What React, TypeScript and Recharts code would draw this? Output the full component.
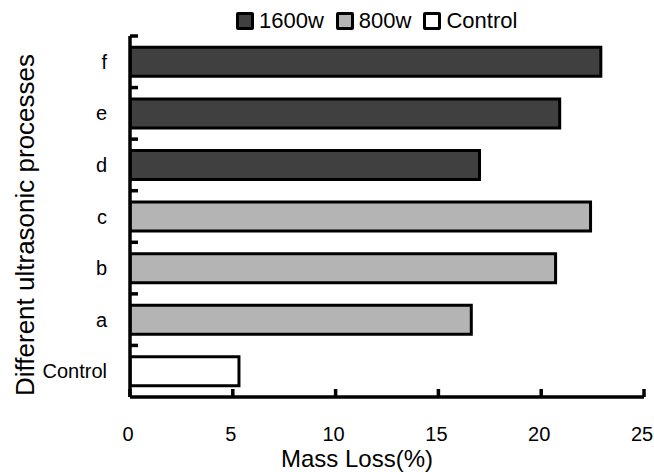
import { BarChart, Bar, XAxis, YAxis, Legend } from "recharts";

// Mass loss (%) per ultrasonic process
const categories = ["f", "e", "d", "c", "b", "a", "Control"];
const loss1600w = [22.9, 20.9, 17.0, null, null, null, null];
const loss800w = [null, null, null, 22.4, 20.7, 16.6, null];
const lossControl = [null, null, null, null, null, null, 5.3];
const xTicks = [0, 5, 10, 15, 20, 25];

const series = [
  { key: "w1600", name: "1600w", fill: "#404040" },
  { key: "w800", name: "800w", fill: "#b4b4b4" },
  { key: "control", name: "Control", fill: "#ffffff" },
];

const data = categories.map((name, i) => ({
  name,
  w1600: loss1600w[i],
  w800: loss800w[i],
  control: lossControl[i],
}));

const W = 654;
const H = 472;
const TOP = 36;
const BOTTOM = 397;
const Y_W = 130;
const BAND = (BOTTOM - TOP) / categories.length;
const FONT = '"Liberation Sans", Arial, sans-serif';

function YTick({ x, y, payload }: any) {
  const top = y - BAND / 2;
  return (
    <g>
      <line x1={x} x2={x + 8} y1={top} y2={top} stroke="#000" strokeWidth={3.5} />
      <text x={x - 23} y={y + 7} textAnchor="end" fontSize={20} fontFamily={FONT} fill="#000">
        {payload.value}
      </text>
    </g>
  );
}

function XTick({ x, y, payload }: any) {
  return (
    <g>
      <line x1={x} x2={x} y1={y} y2={y - 8} stroke="#000" strokeWidth={3.5} />
      <text x={x - 2} y={y + 44} textAnchor="middle" fontSize={20} fontFamily={FONT} fill="#000">
        {payload.value}
      </text>
    </g>
  );
}

function LegendRow({ payload }: any) {
  return (
    <div style={{ display: "flex", alignItems: "center", fontFamily: FONT, fontSize: 22, lineHeight: "26px", color: "#000" }}>
      {(payload || []).map((p: any) => (
        <div key={p.value} style={{ display: "flex", alignItems: "center", marginRight: 12 }}>
          <span
            style={{
              display: "inline-block",
              width: 12,
              height: 12,
              border: "3px solid #000",
              borderRadius: 2,
              background: p.color,
              marginRight: 5,
            }}
          />
          <span>{p.value}</span>
        </div>
      ))}
    </div>
  );
}

export default function App() {
  return (
    <div style={{ position: "absolute", left: 0, top: 0, background: "#fff" }}>
      <BarChart
        width={W}
        height={H}
        data={data}
        layout="vertical"
        margin={{ top: TOP, right: W - 644, left: 0, bottom: 0 }}
        barCategoryGap="22%"
      >
        <XAxis
          type="number"
          domain={[0, 25]}
          ticks={xTicks}
          allowDataOverflow
          height={H - BOTTOM}
          axisLine={{ stroke: "#000", strokeWidth: 3.5 }}
          tickLine={false}
          tickSize={0}
          tickMargin={0}
          tick={<XTick />}
          label={{
            content: () => (
              <text x={357} y={467} textAnchor="middle" fontSize={24} fontFamily={FONT} fill="#000">
                Mass Loss(%)
              </text>
            ),
          }}
        />
        <YAxis
          type="category"
          dataKey="name"
          width={Y_W}
          axisLine={{ stroke: "#000", strokeWidth: 3.5 }}
          tickLine={false}
          tickSize={0}
          tickMargin={0}
          tick={<YTick />}
          interval={0}
          label={{
            content: () => (
              <text
                x={25}
                y={225}
                transform="rotate(-90, 25, 225)"
                textAnchor="middle"
                dominantBaseline="central"
                fontSize={26}
                fontFamily={FONT}
                fill="#000"
              >
                Different ultrasonic processes
              </text>
            ),
          }}
        />
        <Legend
          verticalAlign="middle"
          content={<LegendRow />}
          wrapperStyle={{ left: 236, top: 8, width: 320, height: 26 }}
        />
        {series.map((s) => (
          <Bar
            key={s.key}
            dataKey={s.key}
            name={s.name}
            stackId="mass"
            fill={s.fill}
            stroke="#000"
            strokeWidth={3}
            isAnimationActive={false}
          />
        ))}
      </BarChart>
    </div>
  );
}
